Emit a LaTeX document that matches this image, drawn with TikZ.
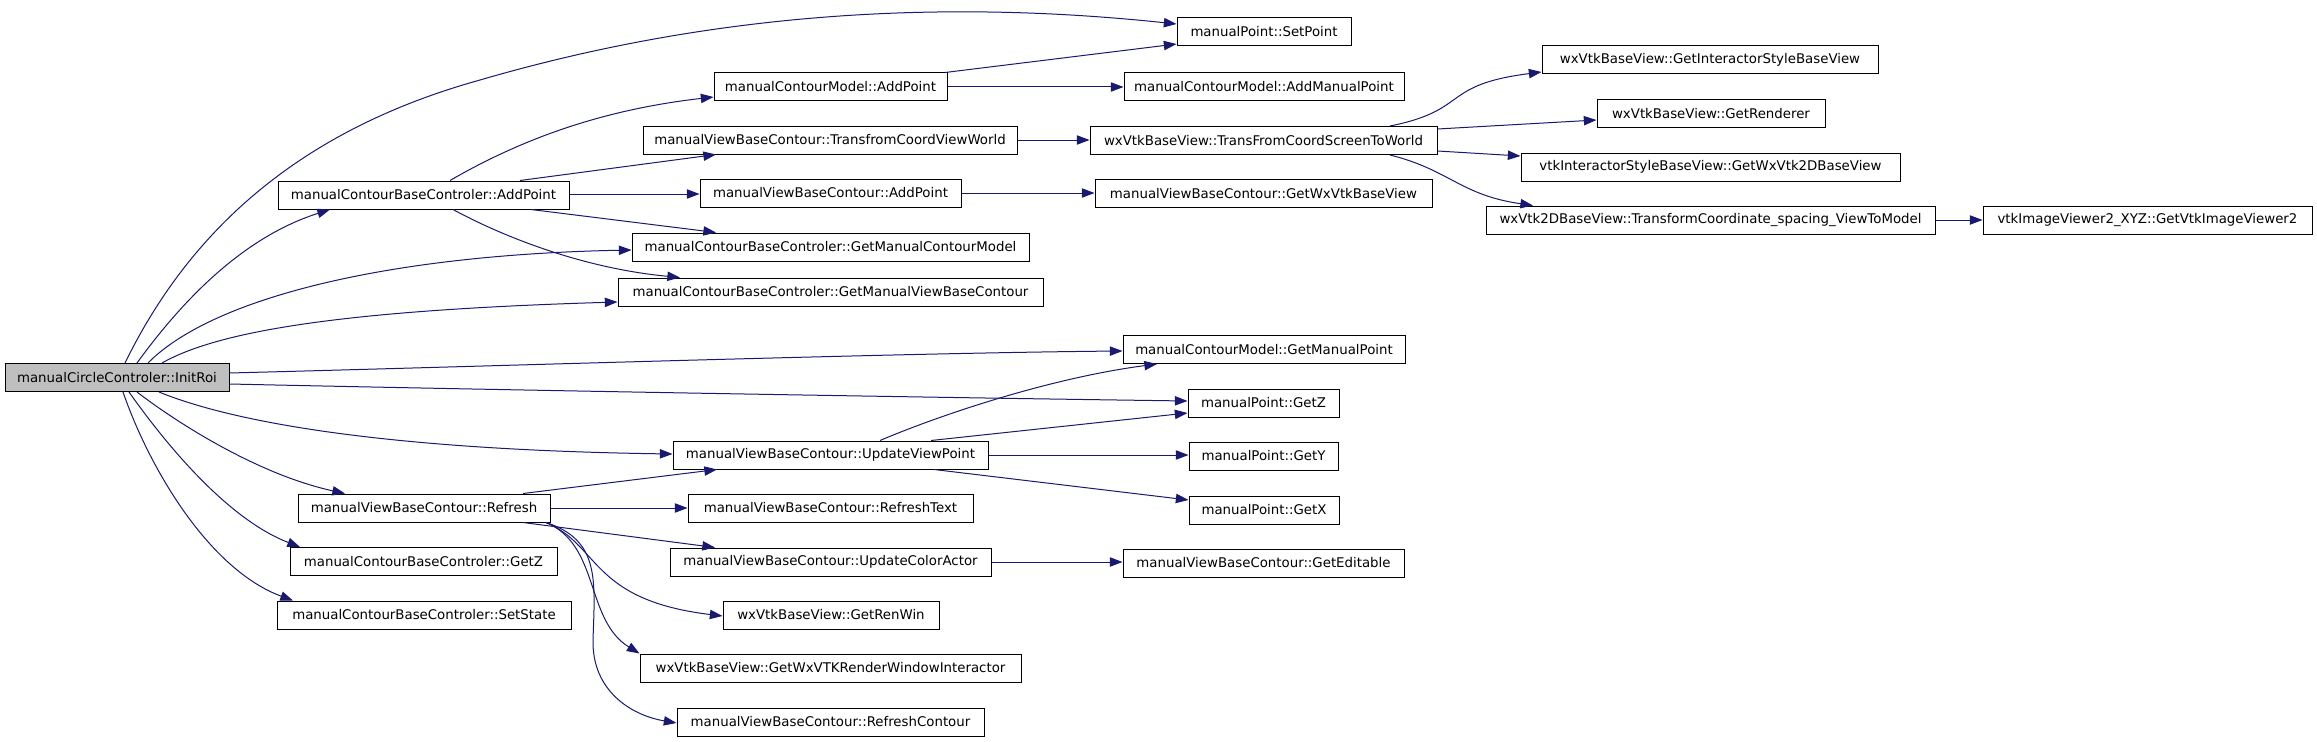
\documentclass[tikz,border=0pt]{standalone}
\usepackage{fontspec}
\setmainfont{DejaVu Sans}
\usetikzlibrary{arrows.meta}
\definecolor{eblue}{HTML}{191970}
\definecolor{initgray}{HTML}{BFBFBF}
\begin{document}
\begin{tikzpicture}[x=0.75pt,y=-0.75pt,
  bx/.style={draw=black, line width=0.75pt, fill=white, inner sep=0pt,
    minimum height=28*0.75pt, font=\fontsize{10}{12}\selectfont},
  e/.style={draw=eblue, line width=0.75pt, -{Triangle[length=9.5pt,width=7pt]}}]
\useasboundingbox (0,0) rectangle (2317,742);
\fill[white] (0,0) rectangle (2317,742);
% nodes
\node[bx, fill=initgray, minimum width=224*0.75pt] (init) at (117,377.5) {manualCircleControler::InitRoi};
\node[bx, minimum width=291*0.75pt] (cbcAdd) at (423.5,195) {manualContourBaseControler::AddPoint};
\node[bx, minimum width=397*0.75pt] (getMCM) at (830.5,247) {manualContourBaseControler::GetManualContourModel};
\node[bx, minimum width=425*0.75pt] (getMVBC) at (830.5,292) {manualContourBaseControler::GetManualViewBaseContour};
\node[bx, minimum width=233*0.75pt] (cmAdd) at (830.5,87) {manualContourModel::AddPoint};
\node[bx, minimum width=374*0.75pt] (transView) at (830,140) {manualViewBaseContour::TransfromCoordViewWorld};
\node[bx, minimum width=261*0.75pt] (vbcAdd) at (830.5,193) {manualViewBaseContour::AddPoint};
\node[bx, minimum width=174*0.75pt] (setPoint) at (1264,32) {manualPoint::SetPoint};
\node[bx, minimum width=280*0.75pt] (addManual) at (1264,87) {manualContourModel::AddManualPoint};
\node[bx, minimum width=347*0.75pt] (screenWorld) at (1263.5,140.5) {wxVtkBaseView::TransFromCoordScreenToWorld};
\node[bx, minimum width=337*0.75pt] (getWxVtk) at (1263.5,193.5) {manualViewBaseContour::GetWxVtkBaseView};
\node[bx, minimum width=336*0.75pt] (getISBV) at (1710,60) {wxVtkBaseView::GetInteractorStyleBaseView};
\node[bx, minimum width=228*0.75pt] (getRenderer) at (1711,113.5) {wxVtkBaseView::GetRenderer};
\node[bx, minimum width=379*0.75pt] (getWx2D) at (1710.5,167) {vtkInteractorStyleBaseView::GetWxVtk2DBaseView};
\node[bx, minimum width=449*0.75pt] (transModel) at (1710.5,220) {wxVtk2DBaseView::TransformCoordinate\_spacing\_ViewToModel};
\node[bx, minimum width=329*0.75pt] (vtkIV) at (2147.5,220) {vtkImageViewer2\_XYZ::GetVtkImageViewer2};
\node[bx, minimum width=282*0.75pt] (getMP) at (1264,349.5) {manualContourModel::GetManualPoint};
\node[bx, minimum width=151*0.75pt] (pGetZ) at (1263.5,403) {manualPoint::GetZ};
\node[bx, minimum width=149*0.75pt] (pGetY) at (1263.5,456) {manualPoint::GetY};
\node[bx, minimum width=150*0.75pt] (pGetX) at (1264,510) {manualPoint::GetX};
\node[bx, minimum width=281*0.75pt] (getEditable) at (1263.5,563) {manualViewBaseContour::GetEditable};
\node[bx, minimum width=315*0.75pt] (updVP) at (830.5,455) {manualViewBaseContour::UpdateViewPoint};
\node[bx, minimum width=252*0.75pt] (refresh) at (424,508) {manualViewBaseContour::Refresh};
\node[bx, minimum width=267*0.75pt] (cGetZ) at (423.5,561.5) {manualContourBaseControler::GetZ};
\node[bx, minimum width=294*0.75pt] (setState) at (424,615) {manualContourBaseControler::SetState};
\node[bx, minimum width=285*0.75pt] (refText) at (830.5,508) {manualViewBaseContour::RefreshText};
\node[bx, minimum width=321*0.75pt] (updColor) at (830.5,562) {manualViewBaseContour::UpdateColorActor};
\node[bx, minimum width=216*0.75pt] (renWin) at (831,615) {wxVtkBaseView::GetRenWin};
\node[bx, minimum width=381*0.75pt] (rwi) at (830.5,668) {wxVtkBaseView::GetWxVTKRenderWindowInteractor};
\node[bx, minimum width=307*0.75pt] (refContour) at (830.5,722) {manualViewBaseContour::RefreshContour};
% edges from InitRoi
\draw[e] (125,0 |- init.north) .. controls (190,230) and (300,130) .. (480,80) .. controls (720,10) and (950,0) .. (setPoint.west |- 0,24);
\draw[e] (137,0 |- init.north) .. controls (190,290) and (250,235) .. (330,0 |- cbcAdd.south);
\draw[e] (148,0 |- init.north) .. controls (210,300) and (380,255) .. (getMCM.west |- 0,250);
\draw[e] (162,0 |- init.north) .. controls (220,330) and (350,310) .. (getMVBC.west |- 0,302);
\draw[e] (init.east |- 0,373) .. controls (500,366) and (900,353) .. (getMP.west |- 0,351);
\draw[e] (init.east |- 0,384) .. controls (500,390) and (900,397) .. (pGetZ.west |- 0,401);
\draw[e] (159,0 |- init.south) .. controls (240,425) and (400,450) .. (updVP.west |- 0,454);
\draw[e] (137,0 |- init.south) .. controls (180,425) and (260,475) .. (345,0 |- refresh.north);
\draw[e] (129,0 |- init.south) .. controls (170,450) and (230,520) .. (300,0 |- cGetZ.north);
\draw[e] (123,0 |- init.south) .. controls (150,470) and (210,570) .. (293,0 |- setState.north);
% edges from cbcAdd
\draw[e] (450,0 |- cbcAdd.north) .. controls (520,140) and (600,110) .. (cmAdd.west |- 0,97);
\draw[e] (520,0 |- cbcAdd.north) -- (716,0 |- transView.south);
\draw[e] (cbcAdd.east |- 0,194) -- (vbcAdd.west |- 0,194);
\draw[e] (531,0 |- cbcAdd.south) -- (716,0 |- getMCM.north);
\draw[e] (453,0 |- cbcAdd.south) .. controls (500,235) and (580,268) .. (680,0 |- getMVBC.north);
% second level
\draw[e] (945,0 |- cmAdd.north) -- (setPoint.west |- 0,44);
\draw[e] (cmAdd.east) -- (addManual.west);
\draw[e] (transView.east) -- (screenWorld.west |- transView.east);
\draw[e] (vbcAdd.east) -- (getWxVtk.west |- vbcAdd.east);
\draw[e] (1390,0 |- screenWorld.north) .. controls (1470,110) and (1440,85) .. (getISBV.west |- 0,72);
\draw[e] (screenWorld.east |- 0,129) -- (getRenderer.west |- 0,120);
\draw[e] (screenWorld.east |- 0,151) -- (getWx2D.west |- 0,156);
\draw[e] (1390,0 |- screenWorld.south) .. controls (1450,170) and (1460,195) .. (1533,0 |- transModel.north);
\draw[e] (transModel.east) -- (vtkIV.west);
% from updVP
\draw[e] (880,0 |- updVP.north) .. controls (940,415) and (1050,378) .. (1157,0 |- getMP.south);
\draw[e] (931,0 |- updVP.north) -- (pGetZ.west |- 0,413);
\draw[e] (updVP.east) -- (pGetY.west |- updVP.east);
\draw[e] (934,0 |- updVP.south) -- (pGetX.west |- 0,500);
% from refresh
\draw[e] (523,0 |- refresh.north) -- (717,0 |- updVP.south);
\draw[e] (refresh.east) -- (refText.west);
\draw[e] (523,0 |- refresh.south) -- (715,0 |- updColor.north);
\draw[e] (546,0 |- refresh.south) .. controls (600,545) and (590,600) .. (renWin.west |- 0,616);
\draw[e] (546,0 |- refresh.south) .. controls (600,545) and (585,620) .. (rwi.north west);
\draw[e] (546,0 |- refresh.south) .. controls (600,540) and (595,580) .. (593,640) .. controls (592,690) and (630,715) .. (refContour.west |- 0,723);
\draw[e] (updColor.east) -- (getEditable.west |- updColor.east);
\end{tikzpicture}
\end{document}
